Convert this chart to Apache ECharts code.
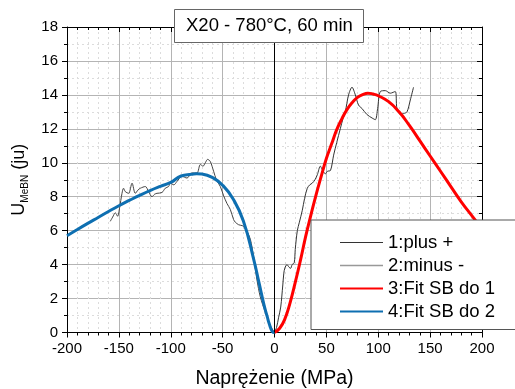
<!DOCTYPE html>
<html>
<head>
<meta charset="utf-8">
<script src="https://cdn.jsdelivr.net/npm/echarts@6/dist/echarts.min.js"></script>
<style>html,body{margin:0;padding:0;background:#fff}#c{width:515px;height:389px}</style>
</head>
<body>
<div id="c"></div>
<script>
// ---- data ----
const chartTitle = 'X20 - 780°C, 60 min';
const xTitle = 'Naprężenie (MPa)';
const seriesNames = ['1:plus +', '2:minus -', '3:Fit SB do 1', '4:Fit SB do 2'];

// measured "plus" branch [stress MPa, U]
const plusData = [[0,0],[2,0.3],[4,0.9],[6,1.5],[8,2.8],[9,3.5],[10,3.8],[12,4.0],[14,3.85],[15.5,3.78],[17,4.0],[19,4.1],[20,4.9],[22,6.0],[24,6.5],[26.8,7.2],[29,7.9],[31.6,8.5],[34,8.7],[36.4,8.8],[39,9.0],[41.3,9.3],[44.2,9.8],[46,9.6],[49,9.35],[51,9.5],[54,9.55],[57,10.45],[60,11.2],[63.4,12.0],[66,12.6],[68.2,13.0],[71.4,14.0],[74.7,14.45],[77.9,14.0],[81,13.4],[84.3,13.2],[89,12.85],[94,12.64],[97.2,12.54],[99.4,13.2],[102,14.2],[106.8,14.25],[111.6,14.1],[116.4,14.2],[118,13.2],[121.3,12.85],[124.4,12.9],[127.7,13.0],[130.9,13.7],[134,14.45]];

// measured "minus" branch [stress MPa, U]
const minusData = [[-158.3,6.55],[-156,6.8],[-153.4,7.05],[-151.2,6.85],[-149.3,7.35],[-147,8.2],[-145.5,8.5],[-143.8,8.3],[-140.6,8.2],[-137.3,8.8],[-134.2,8.2],[-131.5,8.4],[-129.3,8.5],[-124.5,8.6],[-121.3,8.3],[-118.1,8.0],[-115.5,8.15],[-113.3,8.2],[-108.4,8.25],[-105.3,8.5],[-102.1,8.6],[-100.4,8.8],[-97,8.7],[-94,8.9],[-89.2,9.2],[-84.3,9.1],[-79.5,9.4],[-74.7,9.4],[-71.5,9.9],[-68.9,9.8],[-66.7,10.0],[-64.5,10.2],[-61.9,10.08],[-58.7,9.5],[-56,9.0],[-52.2,8.6],[-49,8.05],[-45.8,7.6],[-42.6,7.25],[-39.4,6.65],[-37.8,6.5],[-34.6,6.35],[-31.3,6.3],[-29.8,6.25],[-26.5,5.95],[-23.3,5.5],[-20.1,4.45],[-16.9,3.1],[-13.7,2.1],[-8.9,1.2],[-4,0.4],[0,0]];

// fitted curve 1 (tension side)
const fit1Stress = [0,5,10,15,20,25,30,35,40,45,50,55,60,65,70,75,80,85,90,95,100,110,120,130,140,150,160,170,180,190,200];
const fit1Value  = [0,0.25,0.8,1.75,2.95,4.25,5.65,6.9,8.1,9.2,10.25,11.1,11.95,12.6,13.15,13.55,13.85,14.02,14.1,14.05,13.95,13.6,13.0,12.2,11.3,10.4,9.5,8.6,7.7,6.9,6.1];

// fitted curve 2 (compression side)
const fit2Stress = [-200,-190,-180,-170,-160,-150,-140,-130,-120,-110,-100,-90,-80,-75,-70,-60,-50,-40,-30,-20,-15,-10,-7,-5,-2,0];
const fit2Value  = [5.7,6.07,6.43,6.78,7.13,7.47,7.78,8.08,8.36,8.61,8.84,9.22,9.32,9.36,9.34,9.14,8.68,7.88,6.57,4.3,2.95,1.6,0.93,0.5,0.05,0];

const xMin = -200, xMax = 200, xStep = 50;
const yMin = 0, yMax = 18, yStep = 2;

const zip = (a, b) => a.map((v, i) => [v, b[i]]);
const FONT = 'Liberation Sans';

const chart = echarts.init(document.getElementById('c'), null, {renderer: 'canvas'});

const baseX = {
  type: 'value', min: xMin, max: xMax, interval: xStep,
  axisLine: {show: true, onZero: false, lineStyle: {color: '#000', width: 1}},
};
const baseY = {
  type: 'value', min: yMin, max: yMax, interval: yStep,
  axisLine: {show: true, onZero: false, lineStyle: {color: '#000', width: 1}},
};

chart.setOption({
  animation: false,
  backgroundColor: '#fff',
  textStyle: {fontFamily: FONT},
  title: {
    text: chartTitle,
    left: 174, top: 9,
    padding: [6, 11, 6, 12],
    borderColor: '#666', borderWidth: 1,
    backgroundColor: '#fff',
    textStyle: {fontFamily: FONT, fontSize: 18.5, fontWeight: 'normal', color: '#000', lineHeight: 22}
  },
  legend: {
    show: true,
    orient: 'vertical',
    left: 311, top: 220,
    padding: [12.5, 40, 8, 28],
    itemGap: 3,
    itemWidth: 43, itemHeight: 14,
    borderColor: '#555', borderWidth: 1,
    backgroundColor: '#fff',
    itemStyle: {opacity: 0, borderWidth: 0},
    textStyle: {fontFamily: FONT, fontSize: 18.5, color: '#000', lineHeight: 20},
    data: [
      {name: seriesNames[0], lineStyle: {color: '#333', width: 1}},
      {name: seriesNames[1], lineStyle: {color: '#999', width: 1.5}},
      {name: seriesNames[2]},
      {name: seriesNames[3]}
    ]
  },
  grid: {left: 67, right: 33, top: 27, bottom: 56.5, containLabel: false, outerBoundsMode: 'none'},
  xAxis: [
    Object.assign({}, baseX, {
      position: 'bottom',
      name: xTitle, nameLocation: 'middle', nameGap: 36,
      nameTextStyle: {fontFamily: FONT, fontSize: 19.5, color: '#000'},
      axisTick: {show: true, inside: false, length: 5, lineStyle: {color: '#000'}},
      minorTick: {show: true, splitNumber: 5, length: 3, lineStyle: {color: '#000'}},
      axisLabel: {fontFamily: FONT, fontSize: 15, color: '#000', margin: 9},
      splitLine: {show: true, lineStyle: {color: '#b4b4b4', width: 1}},
      minorSplitLine: {show: true, lineStyle: {color: '#dcdcdc', width: 1, type: [2, 3]}}
    }),
    Object.assign({}, baseX, {
      position: 'top',
      axisTick: {show: true, inside: true, length: 5, lineStyle: {color: '#000'}},
      minorTick: {show: true, splitNumber: 5, length: 3, lineStyle: {color: '#000'}},
      axisLabel: {show: false},
      splitLine: {show: false}
    })
  ],
  yAxis: [
    Object.assign({}, baseY, {
      position: 'left',
      name: '{u|U}{s|MeBN}{u| (ju)}', nameLocation: 'middle', nameGap: 29, nameRotate: 90,
      nameTextStyle: {
        fontFamily: FONT, color: '#000',
        rich: {
          u: {fontFamily: FONT, fontSize: 18, color: '#000', lineHeight: 22},
          s: {fontFamily: FONT, fontSize: 10, color: '#000', lineHeight: 10, verticalAlign: 'bottom'}
        }
      },
      axisTick: {show: true, inside: false, length: 5, lineStyle: {color: '#000'}},
      minorTick: {show: true, splitNumber: 2, length: 3, lineStyle: {color: '#000'}},
      axisLabel: {fontFamily: FONT, fontSize: 15, color: '#000', margin: 9},
      splitLine: {show: true, lineStyle: {color: '#b4b4b4', width: 1}},
      minorSplitLine: {show: true, lineStyle: {color: '#dcdcdc', width: 1, type: [2, 3]}}
    }),
    Object.assign({}, baseY, {
      position: 'right',
      axisTick: {show: true, inside: true, length: 5, lineStyle: {color: '#000'}},
      minorTick: {show: true, splitNumber: 2, length: 3, lineStyle: {color: '#000'}},
      axisLabel: {show: false},
      splitLine: {show: false}
    })
  ],
  series: [
    {
      name: seriesNames[0], type: 'line', xAxisIndex: 0, yAxisIndex: 0,
      data: plusData, symbol: 'none', smooth: 0.3,
      lineStyle: {color: '#333', width: 1}, itemStyle: {color: '#333'},
      z: 2,
      markLine: {
        silent: true, symbol: 'none', animation: false,
        label: {show: false},
        lineStyle: {color: '#000', width: 1, type: 'solid'},
        data: [{xAxis: 0}]
      }
    },
    {
      name: seriesNames[1], type: 'line', xAxisIndex: 0, yAxisIndex: 0,
      data: minusData, symbol: 'none', smooth: 0.3,
      lineStyle: {color: '#444', width: 1}, itemStyle: {color: '#999'},
      z: 2
    },
    {
      name: seriesNames[2], type: 'line', xAxisIndex: 0, yAxisIndex: 0,
      data: zip(fit1Stress, fit1Value), symbol: 'none', smooth: true,
      lineStyle: {color: '#ff0000', width: 3}, itemStyle: {color: '#ff0000'},
      z: 3
    },
    {
      name: seriesNames[3], type: 'line', xAxisIndex: 0, yAxisIndex: 0,
      data: zip(fit2Stress, fit2Value), symbol: 'none', smooth: true,
      lineStyle: {color: '#0e6fb1', width: 3}, itemStyle: {color: '#0e6fb1'},
      z: 3
    }
  ]
});
</script>
</body>
</html>
